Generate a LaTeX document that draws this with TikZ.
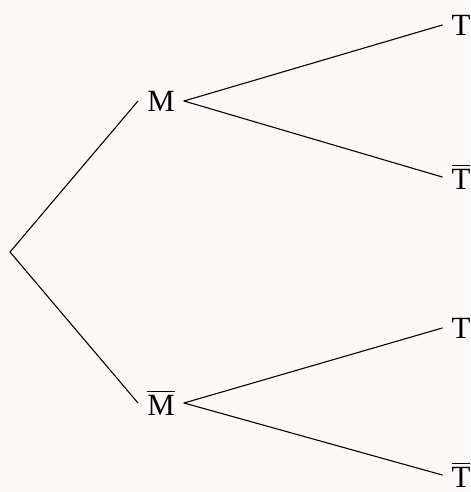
\documentclass[tikz,border=0pt]{standalone}
\usepackage{fontspec}
\setmainfont{Liberation Serif}
\usepackage{tikz}
\definecolor{treeBg}{RGB}{253,249,249}
\newcommand{\evbar}[1]{$\overline{\mbox{#1}}$}
\tikzset{
    tree/.style={line cap=round, line join=round, x=0.366pt, y=-0.366pt},
    event/.style={inner sep=3.2pt, font=\fontsize{11.3}{13}\selectfont},
    branch/.style={draw=black, thin},
}
\begin{document}
\begin{tikzpicture}[tree]

% ─── Fond ───────────────────────────────────────────────────────────────
\fill[treeBg] (0,0) rectangle (470,492);
\useasboundingbox (0,0) rectangle (470,492);

% ─── Premier niveau ─────────────────────────────────────────────────────
\coordinate (root) at (10,252);
\node[event] (m)    at (161,101) {M};
\node[event] (mbar) at (161,403) {\evbar{M}};

\draw[branch] (root) -- (m.west);
\draw[branch] (root) -- (mbar.west);

% ─── Second niveau ──────────────────────────────────────────────────────
\node[event] (mt)       at (461,25)  {T};
\node[event] (mtbar)    at (461,177) {\evbar{T}};
\node[event] (mbart)    at (461,328) {T};
\node[event] (mbartbar) at (461,475) {\evbar{T}};

\draw[branch] (m.east)    -- (mt.west);
\draw[branch] (m.east)    -- (mtbar.west);
\draw[branch] (mbar.east) -- (mbart.west);
\draw[branch] (mbar.east) -- (mbartbar.west);

\end{tikzpicture}
\end{document}
